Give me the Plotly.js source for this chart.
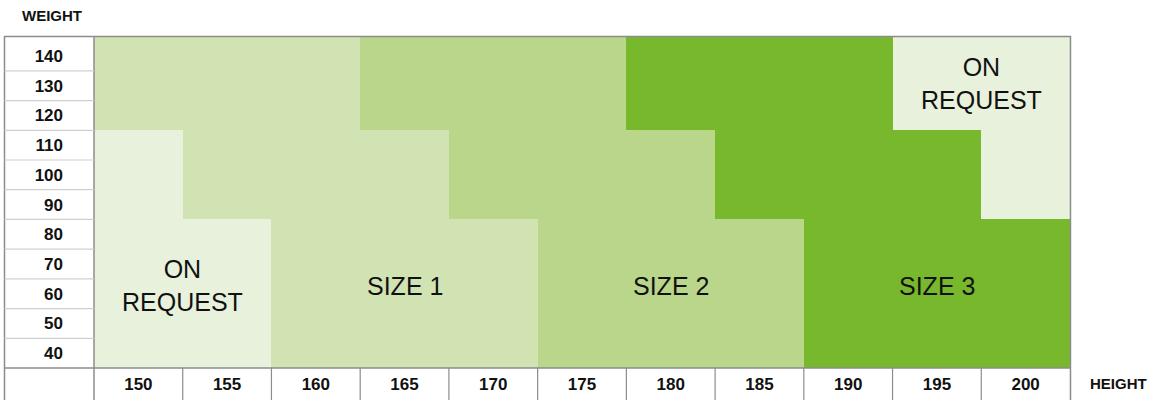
<!DOCTYPE html>
<html>
<head>
<meta charset="utf-8">
<script src="https://cdn.plot.ly/plotly-3.0.1.min.js"></script>
<style>html,body{margin:0;padding:0;background:#fff;}#chart{width:1153px;height:400px;}</style>
</head>
<body>
<div id="chart"></div>
<script>
// Heights (x, cm) and weights (y, kg)
const heights = [150, 155, 160, 165, 170, 175, 180, 185, 190, 195, 200];
const weights = [40, 50, 60, 70, 80, 90, 100, 110, 120, 130, 140];
// zone codes: 0 = on request, 1 = size 1, 2 = size 2, 3 = size 3
const zonesW40to80   = [0, 0, 1, 1, 1, 2, 2, 2, 3, 3, 3];
const zonesW90to110  = [0, 1, 1, 1, 2, 2, 2, 3, 3, 3, 0];
const zonesW120to140 = [1, 1, 1, 2, 2, 2, 3, 3, 3, 0, 0];
const zoneNames = ['ON<br>REQUEST', 'SIZE 1', 'SIZE 2', 'SIZE 3'];
const zoneColors = ['#e8f1dc', '#d2e3b3', '#b9d68b', '#78b82c'];
// label anchors [height, weight, zone]
const labelSpots = [[152.5, 62.6, 0], [165, 62.6, 1], [180, 62.6, 2], [195, 62.6, 3], [197.5, 130.9, 0]];

const z = weights.map(w => w <= 80 ? zonesW40to80 : (w <= 110 ? zonesW90to110 : zonesW120to140));

const cs = [];
zoneColors.forEach((c, i) => { cs.push([i / 4, c]); cs.push([(i + 1) / 4, c]); });

// y axis: rows below 140 are 10 units; the top row is a bit taller
const yLo = 35, yHi = 146.4;
const yEdges = [yLo];
for (let i = 0; i < weights.length - 1; i++) yEdges.push((weights[i] + weights[i + 1]) / 2);
yEdges.push(yHi);

const trace = {
  type: 'heatmap', x: heights, y: yEdges, z: z,
  colorscale: cs, zmin: -0.5, zmax: 3.5, showscale: false, hoverinfo: 'skip'
};

const font = 'Liberation Sans, Arial, Helvetica, sans-serif';
const frame = '#8c8c8c', light = '#d0d0d0';
const xl = (4.5 - 94) / 976, yb = -34 / 331;

const shapes = [];
// outer frame
shapes.push({type: 'rect', xref: 'paper', yref: 'paper', x0: xl, x1: 1.0005, y0: yb, y1: 1.0015, line: {color: frame, width: 1.5}});
// plot area border lines
shapes.push({type: 'line', xref: 'paper', yref: 'paper', x0: 0, x1: 0, y0: yb, y1: 1.0015, line: {color: frame, width: 1.5}});
shapes.push({type: 'line', xref: 'paper', yref: 'paper', x0: xl, x1: 1.0005, y0: 0, y1: 0, line: {color: frame, width: 1.5}});
// left column row separators
for (let i = 1; i < yEdges.length - 1; i++) {
  shapes.push({type: 'line', xref: 'paper', yref: 'y', x0: xl, x1: 0, y0: yEdges[i], y1: yEdges[i], line: {color: light, width: 1.2}});
}
// bottom row column separators
for (let i = 0; i < heights.length - 1; i++) {
  const xv = (heights[i] + heights[i + 1]) / 2;
  shapes.push({type: 'line', xref: 'x', yref: 'paper', x0: xv, x1: xv, y0: yb, y1: 0, line: {color: frame, width: 1.2}});
}

const annotations = labelSpots.map(s => ({
  x: s[0], y: s[1], xref: 'x', yref: 'y', text: zoneNames[s[2]], showarrow: false,
  xanchor: 'center', yanchor: 'middle',
  font: {family: font, size: 25, color: '#111'}
}));
annotations.push({xref: 'paper', yref: 'paper', x: (52 - 94) / 976, y: 1 + (37 - 16) / 331,
  xanchor: 'center', yanchor: 'middle', text: 'WEIGHT', showarrow: false,
  font: {family: font, size: 15, color: '#111', weight: 'bold'}});
annotations.push({xref: 'paper', yref: 'paper', x: (1118 - 94) / 976, y: -(383 - 368) / 331,
  xanchor: 'center', yanchor: 'middle', text: 'HEIGHT', showarrow: false,
  font: {family: font, size: 15, color: '#111', weight: 'bold'}});

const layout = {
  width: 1153, height: 400,
  margin: {l: 94, r: 83, t: 37, b: 32},
  paper_bgcolor: '#fff', plot_bgcolor: '#fff',
  xaxis: {range: [147.5, 202.5], tickmode: 'array', tickvals: heights, ticktext: heights.map(String),
    showgrid: false, zeroline: false, showline: false, ticks: '', ticklabelstandoff: 4,
    tickfont: {family: font, size: 17, color: '#111', weight: 'bold'}, fixedrange: true},
  yaxis: {range: [yLo, yHi], tickmode: 'array', tickvals: weights, ticktext: weights.map(String),
    showgrid: false, zeroline: false, showline: false, ticks: '', ticklabelstandoff: 30,
    tickfont: {family: font, size: 17, color: '#111', weight: 'bold'}, fixedrange: true},
  shapes: shapes, annotations: annotations, showlegend: false
};

Plotly.newPlot('chart', [trace], layout, {displayModeBar: false, staticPlot: true});
</script>
</body>
</html>
